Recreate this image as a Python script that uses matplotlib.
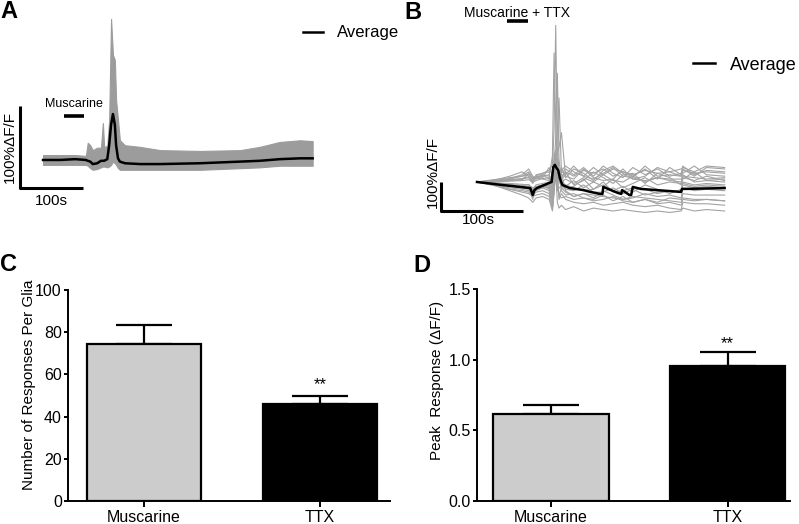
import numpy as np
import matplotlib
matplotlib.use('Agg')
import matplotlib.pyplot as plt

plt.rcParams['font.family'] = ['Liberation Sans', 'DejaVu Sans']

# ---- panel A: muscarine traces (time in s, dF/F in %) ----
t_a = [0, 27, 51, 68, 71, 75, 79, 86, 92, 95, 97, 102, 105, 108, 111, 114, 116,
       119, 122, 130, 154, 186, 249, 313, 344, 376, 408, 428]
gray_hi_a = [6, 6, 6, 5, 21, 18, 12, 15, 15, 45, 16, 17, 49, 172, 128, 122, 73,
             49, 24, 18, 16, 12, 11, 12, 16, 22, 24, 23]
gray_lo_a = [-6, -6, -6, -6, -7, -10, -12, -11, -9, -8, -8, -9, -8, -6, -2, -4, -6,
             -10, -12, -12, -12, -12, -12, -10, -9, -7, -7, -7]
avg_a = [0, 0, 1, 0, -1, -2, -5, -4, -1, -1, -1, 1, 18, 43, 56, 43, 18,
         2, -2, -4, -5, -5, -4, -2, -1, 1, 2, 2]
drug_a = (33, 65)

# ---- panel B: muscarine + TTX traces ----
t_b = [0, 20, 40, 55, 63, 68, 72, 80, 88, 92, 94, 96, 98, 100, 103, 108, 118,
       130, 142, 154, 166, 178, 190, 205, 220, 235, 249, 251, 265, 280, 302]
gray_b = [
    [0, 8, 15, 20, 25, 10, 20, 30, 40, 60, 180, 540, 120, 40, 20, 35, 20, 40, 30, 45, 20, 35, 25, 40, 30, 35, 20, 40, 30, 35, 30],
    [0, 5, 20, 35, 20, 0, 15, 25, 20, 90, 445, 200, 60, 30, 10, 25, 55, 20, 10, 30, 50, 20, 15, 55, 20, 25, 20, 30, 55, 25, 20],
    [0, -5, -10, -15, -20, -60, -20, -10, -5, 20, 60, 150, 375, 80, 0, -10, -20, -30, -25, 0, -35, -30, -20, -25, -40, -30, -35, -10, -20, -15, -20],
    [0, -8, -20, -25, -30, -40, -30, -20, -10, -30, 40, 90, 180, 290, 30, -30, -50, -40, -45, -50, -55, -60, -50, -55, -60, -65, -70, -40, -45, -45, -45],
    [0, 3, 10, 20, 35, 15, 20, 10, 5, -20, 30, 60, 100, 120, 170, 20, 10, 45, 15, 5, 10, 45, 10, 5, 15, 10, 10, 20, 15, 10, 15],
    [0, -10, -25, -35, -40, -50, -45, -40, -50, -80, -20, 50, 20, -60, -40, -60, -70, -75, -70, -80, -75, -70, -80, -85, -80, -90, -95, -70, -75, -75, -80],
    [0, -5, -15, -20, -25, -30, -25, -20, -30, -95, -40, 70, 30, -50, -20, -35, -50, -40, -55, -30, -45, -60, -55, -40, -50, -45, -55, -20, -30, -25, -30],
    [0, 2, 5, 10, 15, -5, 25, 30, 35, -50, 100, 60, 20, 10, 15, 35, -10, 5, 35, 15, -5, 25, 30, -5, 30, 15, -10, 10, 35, 5, 10],
    [0, -3, -5, -8, -10, -20, -15, -10, -25, -60, 20, 40, -30, -20, -15, -25, -30, -10, -35, -35, -20, -40, -25, -45, -35, -30, -35, -5, -15, -10, -15],
    [0, -10, -30, -45, -55, -70, -55, -50, -60, -100, -30, 30, -70, -90, -80, -95, -85, -100, -90, -95, -100, -95, -100, -105, -100, -105, -100, -90, -100, -95, -100],
    [0, 4, 8, 12, 18, 5, 15, 20, 25, -10, 50, 90, 40, 20, 30, 45, 25, 50, 20, 55, 30, 15, 50, 25, 45, 20, 30, 55, 25, 40, 35],
    [0, -2, -8, -12, -15, -25, -10, -5, 0, -40, 10, 30, 60, 10, -5, -15, 5, -20, 0, -15, 10, -20, -5, 15, -10, 0, -5, 25, 0, 5, 0],
    [0, -6, -12, -18, -22, -35, -20, -15, -20, -70, 0, 40, 80, 20, -30, -45, -40, -55, -60, -45, -65, -50, -70, -60, -75, -70, -80, -60, -65, -60, -65],
    [0, 6, 12, 25, 45, 20, 10, 15, 50, 20, 70, 110, 60, 30, 40, 55, 35, 20, 50, 25, 45, 35, 20, 45, 10, 50, 25, 45, 20, 50, 45],
    [0, -4, -10, -12, -8, -30, -18, -12, -15, -50, 30, 100, 50, 0, -10, -20, -15, 10, -25, -10, -30, -15, -35, -10, -25, -40, -25, 0, -10, -5, -10],
    [0, 1, 3, 5, 8, 0, 5, 12, 15, -30, 25, 70, 35, 5, 0, 10, -5, 15, 0, 25, 5, 0, 20, 0, 15, 5, 0, 15, 5, 20, 5],
    [0, -12, -25, -30, -35, -45, -35, -30, -40, -85, -10, 20, -20, -45, -55, -50, -60, -55, -65, -60, -50, -65, -70, -60, -70, -55, -60, -55, -60, -60, -65],
    [0, 3, 6, 8, 30, 10, 12, 25, 10, 0, 60, 30, 15, 25, 50, 15, 45, 30, 5, 40, 55, 30, 10, 20, 50, 35, 45, 50, 35, 55, 50],
]
t_avg_b = [0, 30, 65, 68, 70, 73, 91, 93, 95, 97, 99, 101, 104, 113, 130, 138, 150,
           153, 154, 160, 172, 176, 177, 186, 188, 190, 200, 248, 249, 250, 302]
avg_b = [0, -10, -21, -45, -28, -21, 0, 52, 59, 48, 41, 14, -10, -21, -28, -34, -41,
         -41, -17, -24, -38, -41, -28, -45, -45, -17, -24, -34, -34, -24, -21]
drug_b = (37, 62)

# ---- panels C and D: bar summaries ----
groups = ['Muscarine', 'TTX']
n_resp = [74.5, 46]
n_resp_sem = [9, 4]
peak = [0.616, 0.952]
peak_sem = [0.063, 0.104]

W, H = 799, 524
fig = plt.figure(figsize=(W / 100, H / 100), dpi=100)


def box(x0, y0, x1, y1):
    return fig.add_axes([x0 / W, 1 - y1 / H, (x1 - x0) / W, (y1 - y0) / H])


def ftxt(px, py, s, **kw):
    fig.text(px / W, 1 - py / H, s, **kw)


grey = '#9c9c9c'

# panel A
axA = box(0, 0, 420, 240)
axA.set_xlim(-68.3, 598.4)
axA.set_ylim(-97.6, 195.1)
axA.axis('off')
axA.fill_between(t_a, gray_lo_a, gray_hi_a, color=grey, lw=0.8)
axA.plot(t_a, avg_a, color='black', lw=1.8, label='Average')
axA.plot([-36.5, -36.5, 63.5], [65.9, -34.1, -34.1], color='black', lw=2.2,
         solid_capstyle='butt')
axA.plot(drug_a, [53.7, 53.7], color='black', lw=2.6, solid_capstyle='butt')
ftxt(74, 104, 'Muscarine', fontsize=9, ha='center', va='center')
ftxt(10, 147, '100%\u0394F/F', fontsize=11, rotation=90, ha='center', va='center')
ftxt(51, 201, '100s', fontsize=11, ha='center', va='center')
axA.legend(loc='center left', bbox_to_anchor=(303 / W, 1 - 33 / H),
           bbox_transform=fig.transFigure, frameon=False, fontsize=12,
           handlelength=1.2, handletextpad=0.85, borderpad=0, borderaxespad=0)

# panel B
axB = box(400, 0, 799, 240)
axB.set_xlim(-93.9, 392.7)
axB.set_ylim(-200, 627.6)
axB.axis('off')
for tr in gray_b:
    axB.plot(t_b, tr, color='#a3a3a3', lw=0.8)
axB.plot(t_avg_b, avg_b, color='black', lw=1.8, label='Average')
axB.plot([-43.9, -43.9, 56.1], [0, -100, -100], color='black', lw=2.2,
         solid_capstyle='butt')
axB.plot(drug_b, [555, 555], color='black', lw=2.6, solid_capstyle='butt')
ftxt(517, 13, 'Muscarine + TTX', fontsize=10, ha='center', va='center')
ftxt(433, 172, '100%\u0394F/F', fontsize=11, rotation=90, ha='center', va='center')
ftxt(478, 220, '100s', fontsize=11, ha='center', va='center')
axB.legend(loc='center left', bbox_to_anchor=(693 / W, 1 - 65 / H),
           bbox_transform=fig.transFigure, frameon=False, fontsize=13,
           handlelength=1.2, handletextpad=0.85, borderpad=0, borderaxespad=0)


def bar_panel(ax, vals, sems, width, xlim, ylim, yticks, fmt, ylabel, lab_xy, star_y):
    x = np.arange(len(groups))
    ax.bar(x, vals, width=width, color=['#cccccc', 'black'], edgecolor='black',
           linewidth=1.6, zorder=2)
    ax.errorbar(x, vals, yerr=[[0] * len(vals), sems], fmt='none', ecolor='black',
                elinewidth=1.6, capsize=20, capthick=1.6, zorder=1)
    ax.set_xlim(*xlim)
    ax.set_ylim(*ylim)
    ax.set_xticks(x)
    ax.set_xticklabels(groups, fontsize=11.5)
    ax.set_yticks(yticks)
    ax.set_yticklabels([fmt.format(v) for v in yticks], fontsize=11.5)
    for s in ['top', 'right']:
        ax.spines[s].set_visible(False)
    for s in ['left', 'bottom']:
        ax.spines[s].set_linewidth(1.4)
    ax.tick_params(axis='y', direction='out', length=3, width=1.4, pad=1.5)
    ax.tick_params(axis='x', direction='out', length=4.5, width=1.4, pad=2)
    ax.set_ylabel(ylabel, fontsize=11)
    ax.yaxis.set_label_coords(*lab_xy)
    ax.text(1, star_y, '**', ha='center', va='center', fontsize=12)


axC = box(68, 290, 390, 501)
bar_panel(axC, n_resp, n_resp_sem, 0.653, (-0.432, 1.398), (0, 100),
          [0, 20, 40, 60, 80, 100], '{:.0f}', 'Number of Responses Per Glia',
          (-0.10, 0.55), 55)

axD = box(477, 289, 790, 501)
bar_panel(axD, peak, peak_sem, 0.657, (-0.419, 1.354), (0, 1.5),
          [0.0, 0.5, 1.0, 1.5], '{:.1f}', 'Peak  Response (\u0394F/F)',
          (-0.105, 0.57), 1.11)

for lab, px, py in [('A', 0, 18), ('B', 404, 19), ('C', 0, 271), ('D', 413, 272)]:
    ftxt(px, py, lab, fontsize=17, fontweight='bold', ha='left', va='baseline')

fig.savefig('out.png', dpi=100)
